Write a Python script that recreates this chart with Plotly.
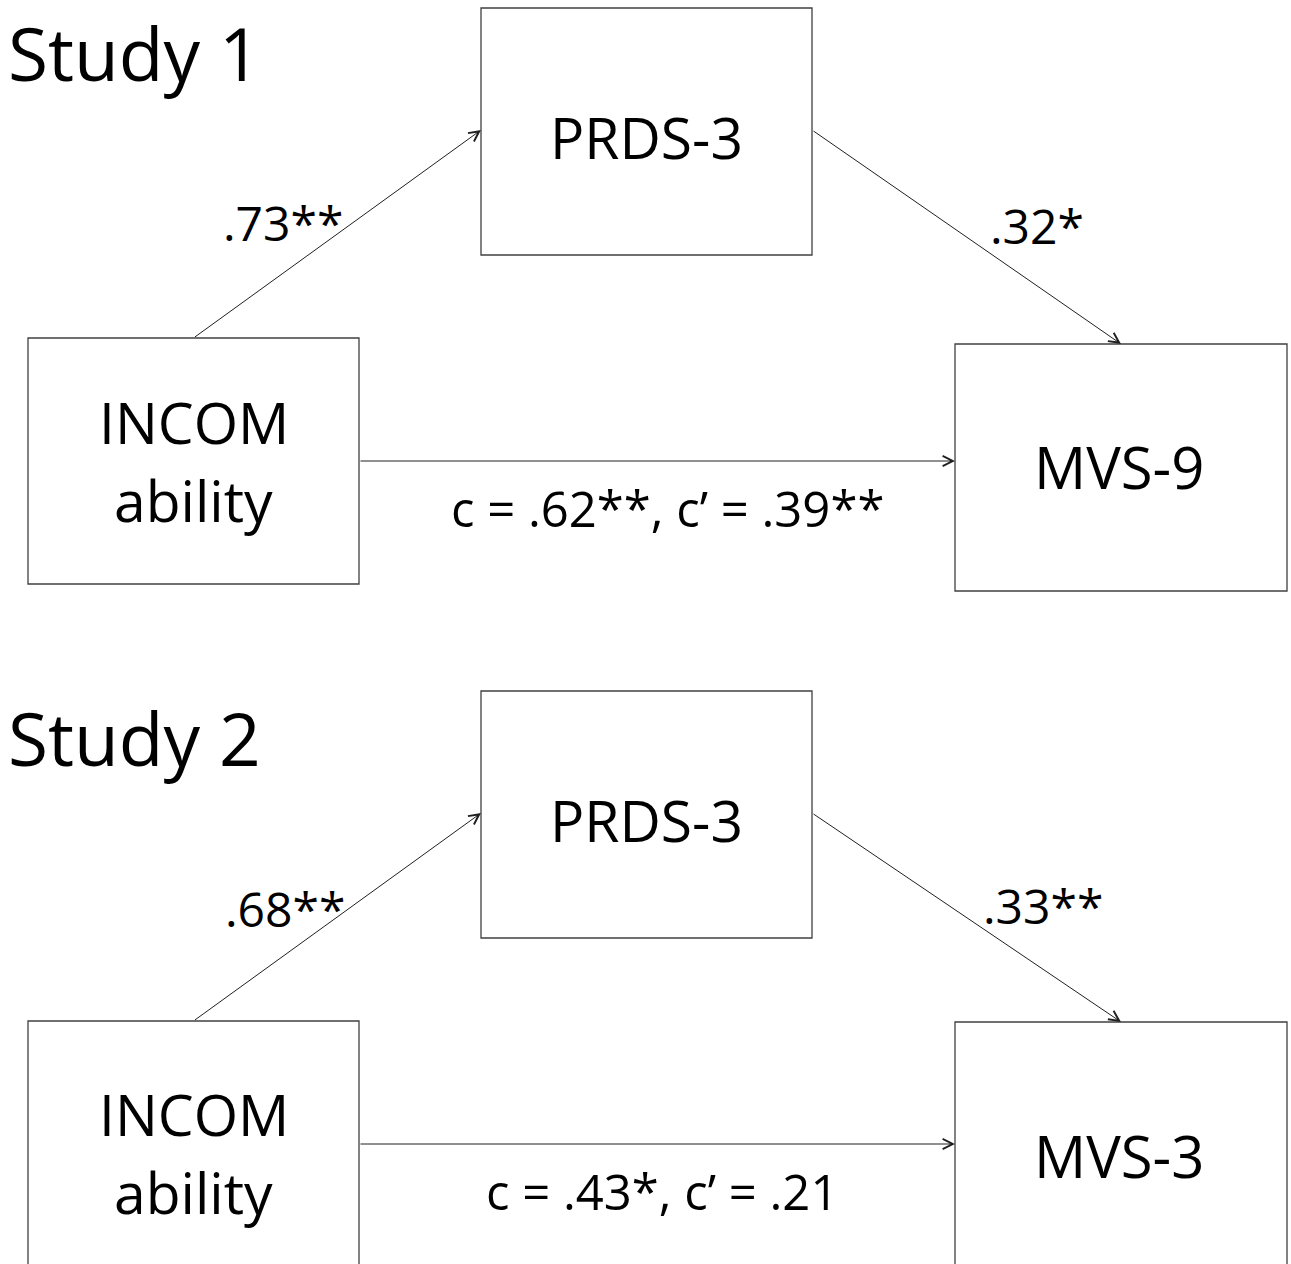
import plotly.graph_objects as go

W, H = 1291, 1264

# ---- data ----
studies = ["Study 1", "Study 2"]
mediators = ["PRDS-3", "PRDS-3"]
predictor_line1 = ["INCOM", "INCOM"]
predictor_line2 = ["ability", "ability"]
outcomes = ["MVS-9", "MVS-3"]
path_a = [".73**", ".68**"]
path_b = [".32*", ".33**"]
path_c = ["c = .62**, c\u2019 = .39**", "c = .43*, c\u2019 = .21"]

# ---- layout constants (pixels) ----
offsets = [0, 683]
FONT = "Open Sans"
BOX_COL = "#404040"
LINE_COL = "#202020"

med_box = (481, 8, 812, 255)
pred_boxes = [(28, 338, 359, 584), (28, 338, 359, 700)]
out_boxes = [(955, 344, 1287, 591), (955, 339, 1287, 700)]
pred_dy = [-3, 6]

fig = go.Figure()
shapes = []
ann = []

BOX_SIZE = 57
LAB_SIZE = 48
TITLE_SIZE = 73

for i, off in enumerate(offsets):
    def bx(b):
        return dict(type="rect", x0=b[0], y0=b[1] + off, x1=b[2], y1=b[3] + off,
                    line=dict(color=BOX_COL, width=1.3), fillcolor="white", layer="below")
    mb = med_box
    pb = pred_boxes[i]
    ob = out_boxes[i]
    shapes += [bx(mb), bx(pb), bx(ob)]

    # title
    ann.append(dict(x=6, y=52 + off + (2 if i else 0), text=studies[i], showarrow=False,
                    xanchor="left", yanchor="middle", font=dict(family=FONT, size=TITLE_SIZE, color="black")))
    # box texts
    ann.append(dict(x=(mb[0] + mb[2]) / 2, y=137 + off, text=mediators[i], showarrow=False,
                    xanchor="center", yanchor="middle", font=dict(family=FONT, size=BOX_SIZE, color="black")))
    ann.append(dict(x=(pb[0] + pb[2]) / 2, y=425 + off + pred_dy[i], text=predictor_line1[i], showarrow=False,
                    xanchor="center", yanchor="middle", font=dict(family=FONT, size=BOX_SIZE, color="black")))
    ann.append(dict(x=(pb[0] + pb[2]) / 2, y=503 + off + pred_dy[i], text=predictor_line2[i], showarrow=False,
                    xanchor="center", yanchor="middle", font=dict(family=FONT, size=BOX_SIZE, color="black")))
    ann.append(dict(x=(ob[0] + ob[2]) / 2 - 2, y=466 + off + (6 if i else 0), text=outcomes[i], showarrow=False,
                    xanchor="center", yanchor="middle", font=dict(family=FONT, size=BOX_SIZE + 1, color="black")))

    # arrows
    pb_top = pb[1] + off
    ob_top = ob[1] + off
    arrows = [
        ((pb[0] + pb[2]) / 2, pb_top, mb[0], 130 + off),
        (mb[2], 130 + off, (ob[0] + ob[2]) / 2, ob_top),
        (pb[2], 461 + off, ob[0], 461 + off),
    ]
    for (x0, y0, x1, y1) in arrows:
        ann.append(dict(x=x1, y=y1, ax=x0, ay=y0, xref="x", yref="y", axref="x", ayref="y",
                        text="", showarrow=True, arrowhead=5, arrowsize=2, arrowwidth=1,
                        arrowcolor=LINE_COL, standoff=0, startstandoff=0))

    # path labels
    ann.append(dict(x=283 + (2 if i else 0), y=222 + off + (3 if i else 0), text=path_a[i], showarrow=False,
                    xanchor="center", yanchor="middle", font=dict(family=FONT, size=LAB_SIZE, color="black")))
    ann.append(dict(x=1037 + (6 if i else 0), y=225 + off - (3 if i else 0), text=path_b[i], showarrow=False,
                    xanchor="center", yanchor="middle", font=dict(family=FONT, size=LAB_SIZE, color="black")))
    ann.append(dict(x=667 - (5 if i else 0), y=508 + off, text=path_c[i], showarrow=False,
                    xanchor="center", yanchor="middle", font=dict(family=FONT, size=LAB_SIZE + 1, color="black")))

fig.update_layout(
    width=W, height=H, margin=dict(l=0, r=0, t=0, b=0),
    paper_bgcolor="white", plot_bgcolor="white",
    xaxis=dict(range=[0, W], visible=False, fixedrange=True),
    yaxis=dict(range=[H, 0], visible=False, fixedrange=True),
    shapes=shapes, annotations=ann, showlegend=False,
)
fig.write_html(
    "out.html",
    config={"displayModeBar": False},
    post_script="document.body.style.margin='0';document.body.style.overflow='hidden';",
)
